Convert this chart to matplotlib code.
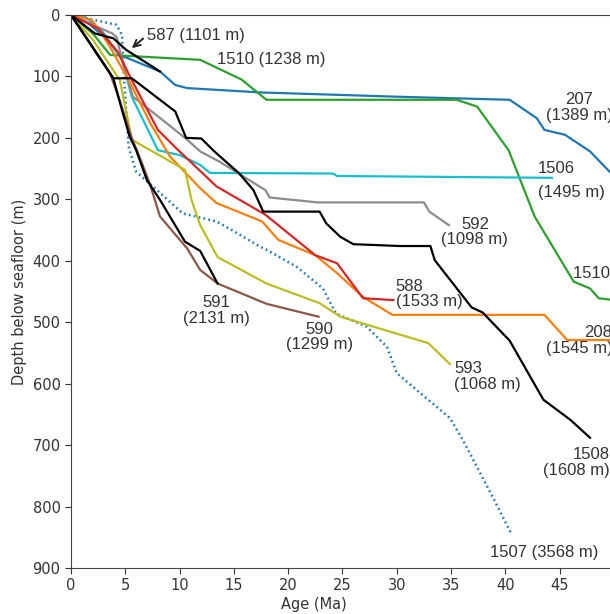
import numpy as np
import matplotlib
matplotlib.use('Agg')
from matplotlib import pyplot as plt

# age (Ma), depth below seafloor (m) for each site
age_207 = [0, 1.5, 3.0, 4.5, 8.2, 9.6, 10.7, 17.4, 30, 40.4, 42.9, 43.6, 45.5, 47.8, 49.6, 52]
dep_207 = [0, 12, 35, 65, 92, 114, 119, 126, 133, 138, 168, 187, 195, 222, 255, 290]

age_1510 = [0, 2.0, 3.6, 11.9, 15.7, 18.0, 35.5, 37.4, 40.3, 42.7, 46.3, 47.8, 48.6, 50]
dep_1510 = [0, 30, 65, 73, 105, 138, 138, 149, 220, 328, 434, 445, 461, 464]

age_1506 = [0, 1.3, 2.9, 4.7, 5.6, 8.0, 10.0, 11.9, 12.8, 24.1, 24.5, 44.3]
dep_1506 = [0, 3, 27, 73, 133, 220, 228, 244, 257, 258, 262, 265]

age_592 = [0, 2.0, 3.8, 4.2, 4.7, 5.7, 8.8, 10.7, 11.9, 13.7, 17.9, 18.3, 22.7, 32.5, 33.0, 34.8]
dep_592 = [0, 16, 30, 36, 73, 133, 176, 203, 222, 239, 285, 297, 305, 305, 320, 342]

age_588 = [0, 2.5, 4.3, 5.6, 8.0, 9.7, 13.4, 17.9, 22.5, 24.5, 26.9, 29.7]
dep_588 = [0, 22, 60, 106, 187, 217, 279, 325, 391, 404, 461, 464]

age_208 = [0, 1.9, 2.7, 3.6, 5.4, 7.3, 9.1, 11.9, 13.4, 17.6, 19.1, 22.5, 24.5, 26.9, 29.6, 43.6, 45.7, 50]
dep_208 = [0, 8, 27, 52, 109, 176, 230, 282, 306, 336, 366, 391, 420, 459, 488, 488, 529, 529]

age_593 = [0, 2.0, 4.5, 5.6, 10.5, 11.1, 11.9, 13.5, 18.0, 22.9, 24.8, 32.9, 34.9]
dep_593 = [0, 40, 106, 203, 252, 301, 342, 394, 437, 469, 491, 534, 568]

age_590 = [0, 3.6, 4.5, 5.6, 6.4, 7.3, 8.2, 10.7, 11.9, 13.5, 18.0, 22.8]
dep_590 = [0, 95, 140, 200, 235, 277, 328, 380, 415, 437, 470, 491]

age_591 = [0, 3.9, 4.7, 5.4, 6.0, 7.0, 8.2, 10.5, 11.9, 13.5]
dep_591 = [0, 103, 155, 198, 220, 269, 301, 369, 384, 437]

age_587 = [0, 2.2, 3.9, 5.1, 8.2]
dep_587 = [0, 30, 38, 57, 92]

age_1508 = [0, 3.9, 5.6, 9.6, 10.6, 12.0, 13.2, 15.5, 16.8, 17.7, 22.9, 23.5, 24.8, 26.0, 30.3,
            33.1, 33.5, 36.9, 37.9, 40.4, 43.5, 46.0, 47.8]
dep_1508 = [0, 103, 103, 157, 200, 201, 222, 258, 285, 320, 320, 339, 361, 373, 376,
            376, 399, 476, 484, 530, 626, 659, 688]

age_1507 = [0, 4.2, 4.7, 4.9, 5.3, 6.0, 7.6, 10.3, 13.4, 15.3, 17.4, 18.0, 20.8, 23.2, 24.4,
            27.2, 29.1, 30.0, 34.9, 36.1, 39.0, 40.6]
dep_1507 = [0, 16, 33, 106, 214, 255, 280, 323, 336, 355, 377, 382, 410, 445, 486,
            507, 540, 583, 656, 692, 790, 846]

plt.rcParams['font.size'] = 10.5
fig = plt.figure(figsize=(6.1, 6.14), dpi=100)
ax = fig.add_axes([0.1164, 0.0749, 0.89, 0.9007])

lw = 1.6
ax.plot(age_1507, dep_1507, color='#1f77b4', lw=1.8, linestyle=(0, (0.7, 1.3)))
ax.plot(age_207, dep_207, color='#1f77b4', lw=lw)
ax.plot(age_1510, dep_1510, color='#2ca02c', lw=lw)
ax.plot(age_1506, dep_1506, color='#17becf', lw=lw)
ax.plot(age_592, dep_592, color='#8c8c8c', lw=lw)
ax.plot(age_208, dep_208, color='#ff7f0e', lw=lw)
ax.plot(age_588, dep_588, color='#d62728', lw=lw)
ax.plot(age_593, dep_593, color='#bcbd22', lw=lw)
ax.plot(age_590, dep_590, color='#8c564b', lw=lw)
ax.plot(age_591, dep_591, color='black', lw=lw)
ax.plot(age_587, dep_587, color='black', lw=lw)
ax.plot(age_1508, dep_1508, color='black', lw=lw)

ax.set_xlim(0, 50)
ax.set_ylim(900, 0)
ax.set_xticks(np.arange(0, 50, 5))
ax.set_yticks(np.arange(0, 1000, 100))
ax.spines['right'].set_visible(False)
for s in ['left', 'bottom', 'top']:
    ax.spines[s].set_color('#444444')
ax.tick_params(colors='#333333', direction='out', length=4)
ax.set_xlabel('Age (Ma)', color='#333333')
ax.xaxis.set_label_coords(0.4475, -0.052)
ax.set_ylabel('Depth below seafloor (m)', color='#333333')

tc = '#333333'
fnt = dict(family='Liberation Sans', fontsize=12, color=tc, clip_on=False, linespacing=1.05)
ax.annotate('587 (1101 m)', xy=(5.6, 54), xytext=(7.0, 33), ha='left', va='center',
            arrowprops=dict(arrowstyle='->', color='#222222', lw=1.4, shrinkA=1, shrinkB=0,
                            relpos=(0, 0.5)),
            **fnt)
ax.text(13.4, 73, '1510 (1238 m)', ha='left', va='center', **fnt)
ax.text(46.8, 151, '207\n(1389 m)', ha='center', va='center', **fnt)
ax.text(43.0, 270, '1506\n\n(1495 m)', ha='left', va='center', **dict(fnt, linespacing=0.75))
ax.text(37.2, 353, '592\n(1098 m)', ha='center', va='center', **fnt)
ax.text(46.2, 420, '1510 (1238 m)', ha='left', va='center', **fnt)
ax.text(29.9, 454, '588\n(1533 m)', ha='left', va='center', **fnt)
ax.text(49.85, 530, '208\n(1545 m)', ha='right', va='center', **fnt)
ax.text(35.3, 588, '593\n(1068 m)', ha='left', va='center', **fnt)
ax.text(22.9, 524, '590\n(1299 m)', ha='center', va='center', **fnt)
ax.text(13.4, 481, '591\n(2131 m)', ha='center', va='center', **fnt)
ax.text(49.65, 728, '1508\n(1608 m)', ha='right', va='center', **fnt)
ax.text(38.6, 874, '1507 (3568 m)', ha='left', va='center', **fnt)

fig.savefig('out.png', dpi=100)
